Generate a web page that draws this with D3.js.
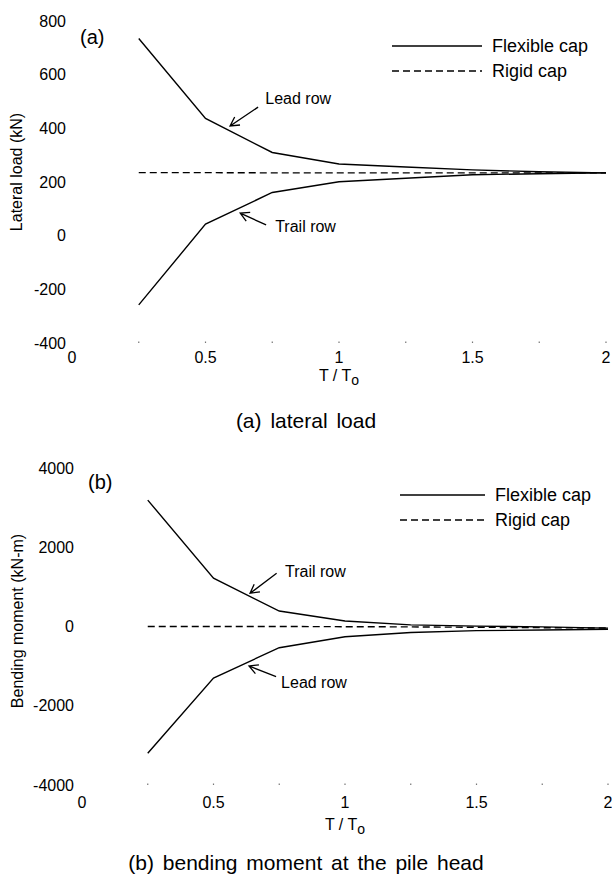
<!DOCTYPE html>
<html>
<head>
<meta charset="utf-8">
<script src="https://cdn.jsdelivr.net/npm/d3@7"></script>
<style>
  body { margin: 0; background: #fff; }
  svg { display: block; }
  text { font-family: "Liberation Sans", Arial, sans-serif; fill: #000; }
</style>
</head>
<body>
<svg id="chart" width="612" height="875"></svg>
<script>
// T/To values shared by every series
const tRatio = [0.25, 0.5, 0.75, 1.0, 1.25, 1.5, 1.75, 2.0];

// (a) lateral load, kN
const loadLeadFlex  = [735, 437, 310, 267, 256, 245, 238, 234];
const loadTrailFlex = [-258, 43, 161, 201, 214, 227, 231, 234];
const loadRigid     = [235, 235, 234, 234, 234, 234, 234, 234];

// (b) bending moment, kN-m
const momTrailFlex = [3190, 1220, 390, 140, 40, 10, -10, -40];
const momLeadFlex  = [-3200, -1300, -535, -260, -150, -105, -90, -70];
const momRigid     = [0, 0, 0, -5, -10, -20, -30, -40];

const xTickLabels = [0, 0.5, 1, 1.5, 2];
const xMinorTicks = [0.25, 0.5, 0.75, 1, 1.25, 1.5, 1.75, 2];
const loadTicks = [800, 600, 400, 200, 0, -200, -400];
const momTicks  = [4000, 2000, 0, -2000, -4000];

// arrow annotations in data units: text anchor, arrow tail, arrow tip
const loadNotes = [
  { label: "Lead row",  text: [0.724, 491], from: [0.697, 479], to: [0.592, 409] },
  { label: "Trail row", text: [0.761, 14],  from: [0.727, 40],  to: [0.630, 84] }
];
const momNotes = [
  { label: "Trail row", text: [0.772, 1249],  from: [0.740, 1343],  to: [0.639, 838] },
  { label: "Lead row",  text: [0.757, -1552], from: [0.738, -1267], to: [0.635, -997] }
];

const svg = d3.select("#chart");

function panel(o) {
  const x = d3.scaleLinear().domain([0, 2]).range(o.xr);
  const y = d3.scaleLinear().domain(o.yd).range(o.yr);
  const g = svg.append("g");

  // tiny tick marks along the bottom
  g.selectAll(".mt").data(xMinorTicks).join("line")
    .attr("x1", d => x(d)).attr("x2", d => x(d))
    .attr("y1", o.yr[0] - 1.5).attr("y2", o.yr[0])
    .attr("stroke", "#777").attr("stroke-width", 1.2);

  g.selectAll(".xl").data(xTickLabels).join("text")
    .attr("x", d => x(d)).attr("y", o.xLabelY)
    .attr("text-anchor", "middle").attr("font-size", 16)
    .text(d => d);

  g.selectAll(".yl").data(o.yTicks).join("text")
    .attr("x", o.yLabelX).attr("y", d => y(d))
    .attr("dy", "0.35em")
    .attr("text-anchor", "end").attr("font-size", 16)
    .text(d => d);

  const xt = g.append("text")
    .attr("x", x(1)).attr("y", o.xTitleY)
    .attr("text-anchor", "middle").attr("font-size", 16);
  xt.append("tspan").text("T / T");
  xt.append("tspan").attr("font-size", 14).attr("dy", 4).text("o");

  g.append("text")
    .attr("transform", `translate(${o.yTitle[0]},${o.yTitle[1]}) rotate(-90)`)
    .attr("text-anchor", "middle").attr("dy", "0.35em").attr("font-size", 16)
    .text(o.yTitleText);

  g.append("text").attr("x", o.tag[0]).attr("y", o.tag[1])
    .attr("font-size", 20).text(o.tagText);

  g.append("text").attr("x", 306).attr("y", o.captionY)
    .attr("text-anchor", "middle").attr("font-size", 21)
    .attr("word-spacing", 3)
    .text(o.caption);

  const line = d3.line().x((d, i) => x(tRatio[i])).y(d => y(d));
  o.solid.forEach(s => g.append("path").attr("d", line(s))
    .attr("fill", "none").attr("stroke", "#000").attr("stroke-width", 1.4));
  g.append("path").attr("d", line(o.dashed))
    .attr("fill", "none").attr("stroke", "#000").attr("stroke-width", 1.4)
    .attr("stroke-dasharray", "7,4");

  // annotations with open arrowheads
  o.notes.forEach(n => {
    const x0 = x(n.from[0]), y0 = y(n.from[1]);
    const x1 = x(n.to[0]), y1 = y(n.to[1]);
    const a = Math.atan2(y1 - y0, x1 - x0), h = 10, w = 0.5;
    g.append("path")
      .attr("d", `M${x0},${y0}L${x1},${y1}` +
        `M${x1 - h * Math.cos(a - w)},${y1 - h * Math.sin(a - w)}L${x1},${y1}` +
        `L${x1 - h * Math.cos(a + w)},${y1 - h * Math.sin(a + w)}`)
      .attr("fill", "none").attr("stroke", "#000").attr("stroke-width", 1.3);
    g.append("text").attr("x", x(n.text[0])).attr("y", y(n.text[1]))
      .attr("font-size", 16).text(n.label);
  });

  // legend
  const L = o.legend;
  g.append("line").attr("x1", L.x1).attr("x2", L.x2).attr("y1", L.y).attr("y2", L.y)
    .attr("stroke", "#000").attr("stroke-width", 1.4);
  g.append("line").attr("x1", L.x1).attr("x2", L.x2).attr("y1", L.y + 25).attr("y2", L.y + 25)
    .attr("stroke", "#000").attr("stroke-width", 1.4).attr("stroke-dasharray", "7,4");
  g.append("text").attr("x", L.x2 + 10).attr("y", L.y).attr("dy", "0.35em")
    .attr("font-size", 18).text("Flexible cap");
  g.append("text").attr("x", L.x2 + 10).attr("y", L.y + 25).attr("dy", "0.35em")
    .attr("font-size", 18).text("Rigid cap");
}

panel({
  xr: [72, 606], yd: [-400, 800], yr: [343, 21],
  yTicks: loadTicks, yLabelX: 66, xLabelY: 363, xTitleY: 381,
  yTitle: [16, 172], yTitleText: "Lateral load (kN)",
  tag: [80, 44], tagText: "(a)",
  captionY: 428, caption: "(a) lateral load",
  solid: [loadLeadFlex, loadTrailFlex], dashed: loadRigid,
  notes: loadNotes,
  legend: { x1: 392, x2: 482, y: 46 }
});

panel({
  xr: [82, 608], yd: [-4000, 4000], yr: [785, 468],
  yTicks: momTicks, yLabelX: 74, xLabelY: 808, xTitleY: 830,
  yTitle: [17, 621], yTitleText: "Bending moment (kN-m)",
  tag: [88, 489], tagText: "(b)",
  captionY: 870, caption: "(b) bending moment at the pile head",
  solid: [momTrailFlex, momLeadFlex], dashed: momRigid,
  notes: momNotes,
  legend: { x1: 400, x2: 485, y: 495 }
});
</script>
</body>
</html>
